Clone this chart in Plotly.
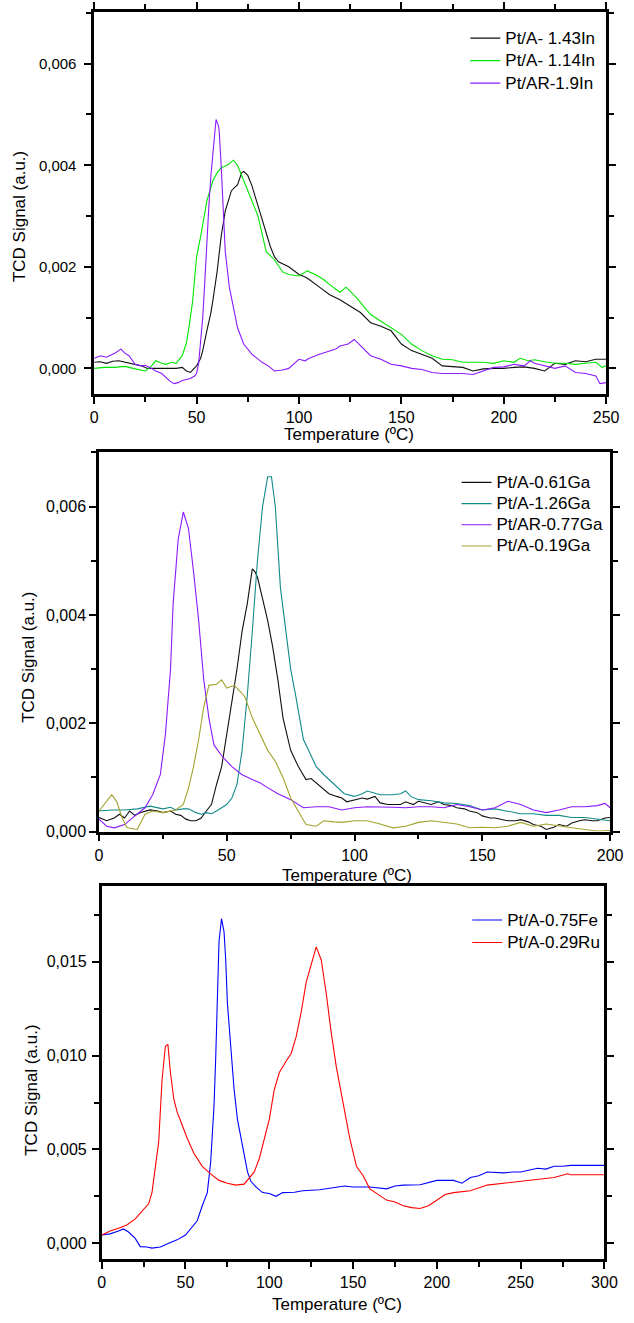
import plotly.graph_objects as go

FIG_W, FIG_H = 634, 1323
FONT = "Liberation Sans, Arial, sans-serif"

# ---------------- Panel 1: In series (signal in units of 1e-3 a.u.) ----------------
in143_T = [0, 3, 6, 9, 12, 15, 18, 20, 23, 26,
           30, 35, 40, 43, 45, 47, 48, 50, 52, 53,
           55, 57, 58, 60, 62, 64, 67, 70, 72, 73,
           75, 77, 80, 83, 86, 88, 90, 95, 100, 103,
           105, 110, 115, 120, 125, 130, 135, 140, 145, 150,
           155, 160, 165, 170, 175, 180, 185, 190, 195, 200,
           205, 210, 215, 220, 225, 230, 235, 240, 245, 250]
in143_v = [0.12, 0.13, 0.10, 0.14, 0.15, 0.12, 0.10, 0.08, 0.05, 0.00,
           0.00, 0.00, 0.00, 0.02, -0.05, -0.08, -0.03, 0.05, 0.20, 0.35,
           0.74, 1.10, 1.35, 1.90, 2.60, 3.10, 3.50, 3.62, 3.85, 3.88,
           3.80, 3.60, 3.20, 2.80, 2.40, 2.20, 2.10, 2.00, 1.85, 1.80,
           1.75, 1.60, 1.45, 1.35, 1.23, 1.10, 0.90, 0.83, 0.74, 0.48,
           0.35, 0.28, 0.20, 0.05, 0.03, 0.02, -0.05, -0.01, 0.00, 0.00,
           0.02, 0.03, 0.00, -0.05, 0.10, 0.08, 0.15, 0.13, 0.18, 0.18]

in114_T = [0, 5, 10, 15, 20, 25, 28, 30, 33, 35,
           38, 40, 43, 45, 46, 48, 50, 52, 55, 58,
           60, 62, 65, 68, 70, 73, 76, 80, 84, 88,
           92, 95, 100, 104, 108, 112, 115, 120, 123, 128,
           131, 135, 140, 145, 150, 155, 160, 165, 170, 175,
           180, 185, 190, 195, 200, 205, 208, 212, 215, 220,
           225, 230, 235, 240, 245, 248, 250]
in114_v = [0.00, 0.02, 0.02, 0.04, -0.01, -0.05, 0.05, 0.15, 0.10, 0.08,
           0.12, 0.10, 0.25, 0.50, 0.74, 1.30, 2.20, 2.60, 3.30, 3.70,
           3.85, 3.95, 4.00, 4.10, 4.00, 3.70, 3.40, 3.00, 2.30, 2.14,
           1.90, 1.85, 1.82, 1.92, 1.85, 1.75, 1.65, 1.50, 1.60, 1.40,
           1.25, 1.06, 0.93, 0.80, 0.67, 0.48, 0.35, 0.25, 0.18, 0.17,
           0.12, 0.12, 0.12, 0.10, 0.15, 0.12, 0.20, 0.15, 0.17, 0.13,
           0.10, 0.10, 0.08, 0.10, 0.12, 0.02, 0.05]

in19_T = [0, 3, 6, 10, 13, 15, 17, 19, 20, 23,
          25, 28, 30, 33, 35, 37, 39, 41, 43, 45,
          47, 49, 50, 51, 52, 53, 54, 55, 56, 57,
          58, 59.5, 60.5, 61, 62, 63, 64, 66, 68, 70,
          73, 77, 82, 85, 88, 92, 95, 97, 100, 103,
          105, 110, 115, 118, 120, 124, 127, 130, 133, 135,
          140, 145, 150, 155, 160, 165, 170, 175, 180, 185,
          190, 195, 200, 205, 210, 213, 215, 220, 225, 230,
          235, 240, 245, 247, 250]
in19_v = [0.20, 0.25, 0.22, 0.30, 0.38, 0.30, 0.25, 0.15, 0.08, 0.05,
          0.06, 0.00, -0.05, -0.10, -0.18, -0.25, -0.30, -0.28, -0.24, -0.22,
          -0.20, -0.15, -0.10, 0.10, 0.48, 1.00, 1.70, 2.50, 3.20, 3.80,
          4.30, 4.90, 4.80, 4.70, 4.00, 3.20, 2.30, 1.60, 1.20, 0.80,
          0.48, 0.28, 0.12, 0.05, -0.05, -0.03, 0.00, 0.08, 0.18, 0.15,
          0.20, 0.28, 0.35, 0.38, 0.44, 0.48, 0.57, 0.45, 0.33, 0.25,
          0.18, 0.08, 0.05, 0.00, -0.02, -0.08, -0.10, -0.10, -0.10, -0.12,
          -0.05, 0.02, 0.03, 0.08, 0.05, 0.15, 0.10, 0.05, 0.00, 0.05,
          -0.08, -0.10, -0.15, -0.30, -0.28]

# ---------------- Panel 2: Ga series ----------------
ga061_T = [0, 3, 6, 8, 10, 12, 14, 16, 20, 23,
           25, 28, 30, 32, 34, 36, 38, 40, 42, 44,
           46, 48, 50, 52, 54, 56, 58, 60, 61, 62,
           64, 66, 68, 70, 72, 75, 78, 81, 83, 85,
           88, 90, 93, 95, 97, 100, 103, 105, 108, 110,
           113, 115, 118, 120, 123, 125, 128, 130, 133, 135,
           138, 140, 143, 145, 148, 150, 153, 155, 158, 160,
           163, 165, 168, 170, 173, 175, 178, 180, 183, 185,
           188, 190, 193, 195, 198, 200]
ga061_v = [0.26, 0.20, 0.25, 0.32, 0.25, 0.38, 0.30, 0.35, 0.40, 0.38,
           0.35, 0.38, 0.32, 0.30, 0.23, 0.20, 0.20, 0.25, 0.38, 0.50,
           0.87, 1.20, 1.80, 2.40, 3.00, 3.70, 4.20, 4.85, 4.80, 4.70,
           4.30, 3.90, 3.40, 2.80, 2.10, 1.50, 1.20, 0.96, 0.98, 0.90,
           0.78, 0.70, 0.65, 0.62, 0.55, 0.59, 0.62, 0.60, 0.65, 0.53,
           0.50, 0.50, 0.50, 0.55, 0.50, 0.56, 0.52, 0.50, 0.55, 0.50,
           0.48, 0.44, 0.42, 0.38, 0.35, 0.29, 0.25, 0.25, 0.22, 0.20,
           0.20, 0.22, 0.18, 0.13, 0.10, 0.04, 0.08, 0.13, 0.10, 0.16,
           0.20, 0.22, 0.20, 0.20, 0.25, 0.26]

ga126_T = [0, 5, 10, 15, 20, 25, 28, 30, 33, 35,
           38, 40, 42, 44, 46, 48, 50, 52, 54, 56,
           58, 60, 62, 64, 66, 67.5, 69, 71, 73, 75,
           77, 80, 82, 85, 88, 92, 96, 100, 103, 105,
           108, 110, 115, 118, 120, 122, 125, 130, 135, 140,
           145, 150, 155, 160, 165, 170, 175, 180, 185, 190,
           195, 200]
ga126_v = [0.38, 0.40, 0.40, 0.42, 0.47, 0.42, 0.45, 0.40, 0.42, 0.42,
           0.35, 0.32, 0.35, 0.33, 0.38, 0.44, 0.50, 0.62, 0.87, 1.50,
           2.50, 3.70, 5.00, 6.00, 6.55, 6.55, 6.00, 4.50, 3.70, 3.00,
           2.50, 1.70, 1.50, 1.20, 1.05, 0.87, 0.70, 0.65, 0.70, 0.75,
           0.70, 0.68, 0.68, 0.70, 0.75, 0.65, 0.59, 0.57, 0.53, 0.52,
           0.48, 0.40, 0.42, 0.38, 0.33, 0.33, 0.30, 0.30, 0.26, 0.26,
           0.23, 0.20]

ga077_T = [0, 3, 6, 10, 13, 15, 18, 21, 24, 26,
           28, 29, 31, 33, 35, 37, 39, 41, 43, 45,
           48, 52, 56, 60, 63, 65, 68, 70, 75, 80,
           85, 90, 95, 100, 105, 110, 115, 120, 125, 130,
           135, 140, 145, 150, 155, 160, 165, 170, 175, 180,
           185, 190, 195, 198, 200]
ga077_v = [0.23, 0.10, 0.07, 0.13, 0.25, 0.32, 0.44, 0.68, 1.05, 1.80,
           3.00, 4.20, 5.40, 5.90, 5.60, 4.80, 3.90, 2.80, 2.10, 1.60,
           1.40, 1.20, 1.05, 0.96, 0.90, 0.84, 0.75, 0.70, 0.59, 0.44,
           0.46, 0.46, 0.40, 0.44, 0.46, 0.46, 0.45, 0.44, 0.46, 0.46,
           0.44, 0.50, 0.46, 0.40, 0.44, 0.56, 0.50, 0.40, 0.35, 0.40,
           0.46, 0.46, 0.48, 0.52, 0.44]

ga019_T = [0, 3, 5, 7, 9, 11, 15, 18, 21, 25,
           30, 33, 35, 37, 39, 41, 43, 46, 48, 50,
           53, 55, 57, 60, 63, 66, 69, 72, 75, 78,
           81, 85, 88, 92, 95, 100, 105, 110, 115, 120,
           125, 130, 135, 140, 145, 150, 155, 160, 165, 170,
           175, 180, 185, 190, 195, 200]
ga019_v = [0.38, 0.56, 0.68, 0.55, 0.26, 0.07, 0.04, 0.32, 0.38, 0.35,
           0.40, 0.50, 0.80, 1.20, 1.70, 2.30, 2.70, 2.72, 2.80, 2.65,
           2.70, 2.60, 2.50, 2.10, 1.80, 1.50, 1.30, 1.00, 0.62, 0.38,
           0.13, 0.10, 0.20, 0.18, 0.17, 0.20, 0.20, 0.14, 0.07, 0.10,
           0.17, 0.20, 0.17, 0.14, 0.07, 0.08, 0.07, 0.10, 0.17, 0.10,
           0.14, 0.10, 0.07, 0.04, 0.01, 0.02]

# ---------------- Panel 3: Fe and Ru ----------------
fe075_T = [0, 5, 10, 13, 16, 20, 23, 27, 30, 35,
           40, 45, 50, 54, 57, 60, 63, 65, 66, 67,
           68, 69, 70, 71.5, 73, 74, 75, 77, 79, 81,
           83, 85, 87, 89, 92, 96, 100, 104, 108, 115,
           120, 130, 140, 145, 150, 160, 170, 175, 180, 190,
           200, 210, 215, 220, 225, 230, 240, 245, 250, 260,
           265, 270, 275, 280, 290, 300]
fe075_v = [0.44, 0.50, 0.65, 0.76, 0.60, 0.26, -0.18, -0.20, -0.26, -0.20,
           0.00, 0.18, 0.44, 0.88, 1.20, 2.00, 2.70, 4.30, 5.60, 7.30,
           9.80, 12.60, 16.10, 17.30, 16.60, 15.10, 12.80, 10.50, 8.20, 6.60,
           5.60, 4.70, 3.80, 3.30, 3.00, 2.70, 2.65, 2.50, 2.70, 2.72,
           2.80, 2.85, 3.00, 3.05, 3.00, 3.00, 2.90, 3.05, 3.10, 3.12,
           3.35, 3.35, 3.20, 3.50, 3.60, 3.80, 3.75, 3.80, 3.80, 4.00,
           3.95, 4.10, 4.10, 4.15, 4.15, 4.15]

ru029_T = [0, 5, 10, 15, 20, 25, 28, 30, 32, 34,
           36, 38, 39.5, 41, 43, 45, 48, 51, 55, 60,
           65, 70, 75, 80, 85, 88, 91, 94, 97, 100,
           103, 106, 110, 113, 116, 119, 122, 125, 128, 131,
           134, 137, 140, 144, 148, 152, 156, 160, 165, 170,
           175, 180, 185, 190, 195, 200, 205, 210, 220, 230,
           240, 250, 260, 270, 278, 280, 290, 300]
ru029_v = [0.44, 0.65, 0.80, 0.97, 1.30, 1.80, 2.10, 2.70, 4.10, 5.40,
           8.70, 10.50, 10.60, 9.10, 7.70, 7.00, 6.30, 5.60, 4.80, 4.10,
           3.70, 3.35, 3.20, 3.10, 3.15, 3.50, 3.80, 4.50, 5.60, 6.60,
           8.20, 9.10, 9.70, 10.10, 11.00, 12.30, 13.90, 14.90, 15.80, 15.10,
           13.30, 11.20, 9.40, 7.50, 5.60, 4.10, 3.60, 2.90, 2.60, 2.30,
           2.20, 2.00, 1.90, 1.85, 2.00, 2.30, 2.60, 2.70, 2.80, 3.10,
           3.20, 3.30, 3.40, 3.50, 3.70, 3.65, 3.65, 3.65]

SCALE = 1e-3  # stored values are in 1e-3 a.u.

series = [
    # (name, T, v, color, panel)
    ("Pt/A- 1.43In", in143_T, in143_v, "#111111", 1),
    ("Pt/A- 1.14In", in114_T, in114_v, "#00e600", 1),
    ("Pt/AR-1.9In", in19_T, in19_v, "#8c1aff", 1),
    ("Pt/A-0.61Ga", ga061_T, ga061_v, "#111111", 2),
    ("Pt/A-1.26Ga", ga126_T, ga126_v, "#138a8a", 2),
    ("Pt/AR-0.77Ga", ga077_T, ga077_v, "#8c1aff", 2),
    ("Pt/A-0.19Ga", ga019_T, ga019_v, "#a3a32e", 2),
    ("Pt/A-0.75Fe", fe075_T, fe075_v, "#0000ff", 3),
    ("Pt/A-0.29Ru", ru029_T, ru029_v, "#ff0000", 3),
]

# panel geometry in pixels: left, right, top, bottom
panels = {
    1: dict(l=92.7, r=618.7, t=12, b=397, xr=[0, 250], yr=[-0.00051, 0.00702],
            ydt=0.002, ymin=0.001, xdt=50, xmin=25, legx=507, legtop=22, legfs=15,
            xt=(355, 437), yt=(16, 218), ytickfs=15, ystand=5, xmirror="ticks"),
    2: dict(l=97.6, r=622.8, t=455, b=837.3, xr=[0, 200], yr=[0, 0.00701],
            ydt=0.002, ymin=0.001, xdt=50, xmin=25, legx=498, legtop=470, legfs=14,
            xt=(352, 881), yt=(25, 662), ytickfs=16, ystand=0, xmirror=True),
    3: dict(l=100.4, r=617, t=892.3, b=1268, xr=[0, 300], yr=[-0.00086, 0.01903],
            ydt=0.005, ymin=0.0025, xdt=50, xmin=25, legx=509, legtop=910, legfs=15,
            xt=(342, 1313), yt=(28, 1098), ytickfs=16, ystand=2, xmirror=True),
}
LEGEND_TEXT_PX = 17

fig = go.Figure()
for name, T, v, color, p in series:
    sfx = "" if p == 1 else str(p)
    fig.add_trace(go.Scatter(
        x=T, y=[val * SCALE for val in v],
        name=f'<span style="font-size:{LEGEND_TEXT_PX}px">{name}</span>',
        mode="lines", line=dict(color=color, width=1.1),
        xaxis="x" + sfx, yaxis="y" + sfx, legend="legend" + sfx,
    ))

layout = dict(
    width=FIG_W, height=FIG_H, margin=dict(l=0, r=0, t=0, b=0),
    paper_bgcolor="white", plot_bgcolor="white",
    separators=", ", font=dict(family=FONT, color="black"),
    annotations=[],
)

for p, g in panels.items():
    sfx = "" if p == 1 else str(p)
    common = dict(showline=True, linewidth=2.5, linecolor="black",
                  ticks="outside", ticklen=7, tickwidth=2, tickcolor="black",
                  showgrid=False, zeroline=False)
    layout["xaxis" + sfx] = dict(
        domain=[g["l"] / FIG_W, g["r"] / FIG_W], range=g["xr"], anchor="y" + sfx,
        dtick=g["xdt"], tick0=0, mirror=g["xmirror"],
        tickfont=dict(family=FONT, size=16, color="black"),
        minor=dict(ticks="outside", ticklen=5, tickwidth=1.5, tickcolor="black", dtick=g["xmin"], tick0=0),
        **common)
    layout["yaxis" + sfx] = dict(
        domain=[1 - g["b"] / FIG_H, 1 - g["t"] / FIG_H], range=g["yr"], anchor="x" + sfx,
        dtick=g["ydt"], tick0=0, tickformat=".3f", ticklabelstandoff=g["ystand"],
        mirror="ticks",
        tickfont=dict(family=FONT, size=g["ytickfs"], color="black"),
        minor=dict(ticks="outside", ticklen=5, tickwidth=1.5, tickcolor="black", dtick=g["ymin"], tick0=0),
        **common)
    layout["legend" + sfx] = dict(
        x=(g["legx"] - 33) / FIG_W, y=1 - g["legtop"] / FIG_H,
        xanchor="left", yanchor="top", bgcolor="rgba(0,0,0,0)", borderwidth=0,
        font=dict(family=FONT, size=g["legfs"], color="black"), tracegroupgap=0)
    layout["annotations"].append(dict(
        text="Temperature (ºC)", x=g["xt"][0] / FIG_W, y=1 - g["xt"][1] / FIG_H,
        xref="paper", yref="paper", showarrow=False, xanchor="center", yanchor="middle",
        font=dict(family=FONT, size=17, color="black")))
    layout["annotations"].append(dict(
        text="TCD Signal (a.u.)", x=g["yt"][0] / FIG_W, y=1 - g["yt"][1] / FIG_H,
        xref="paper", yref="paper", showarrow=False, xanchor="center", yanchor="middle",
        textangle=-90, font=dict(family=FONT, size=17, color="black")))

fig.update_layout(**layout)
fig.write_html("out.html")
